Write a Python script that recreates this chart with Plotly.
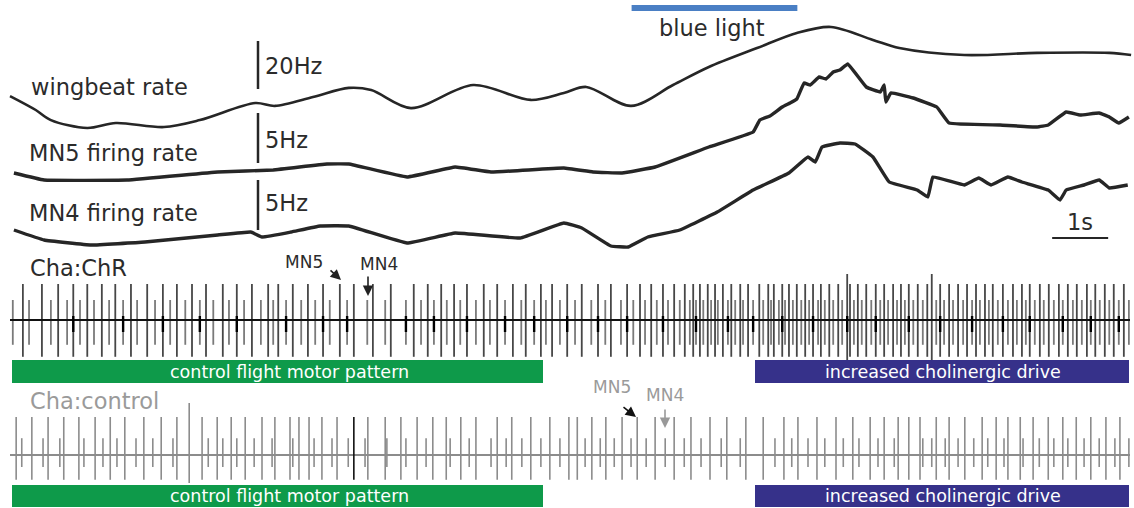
import plotly.graph_objects as go

W, H = 1134, 508
PX0, PX_PER_S = 10, 56.0  # time origin and pixels per second (layout)

# ---------------- DATA ----------------
# time (s) and instantaneous rates (Hz)
wing_t = [0.00, 0.46, 0.73, 1.38, 1.89, 2.75, 3.39, 4.38, 4.73, 5.41, 6.05, 6.45, 7.16, 8.27, 9.30,
          9.89, 10.29, 11.09, 11.84, 12.48, 13.34, 14.05, 14.66, 15.41, 15.88, 17.04, 18.34, 19.63, 20.02]
wing_hz = [203.3, 197.5, 193.3, 190.0, 192.1, 190.4, 193.3, 200.4, 199.2, 202.9, 206.7, 205.8, 198.3, 207.9, 201.7,
           204.6, 207.1, 199.2, 207.9, 215.4, 223.3, 229.6, 232.1, 226.7, 223.3, 220.4, 221.3, 221.3, 220.4]

mn5_t = [0.07, 0.61, 2.09, 3.71, 4.70, 5.66, 6.05, 7.09, 7.95, 8.59, 9.89, 10.41, 10.93, 11.52, 12.48, 13.27,
         13.39, 13.57, 13.79, 13.93, 14.05, 14.18, 14.29, 14.45, 14.57, 14.70, 14.82, 14.96, 15.29, 15.54,
         15.61, 15.64, 15.73, 16.13, 16.55, 16.77, 17.68, 18.34, 18.54, 18.86, 19.11, 19.45, 19.63, 19.80, 19.98]
mn5_hz = [4.7, 4.0, 4.0, 4.8, 5.0, 5.6, 5.6, 4.3, 5.3, 4.8, 5.2, 4.8, 4.7, 5.3, 7.3, 8.8,
          10.0, 10.4, 11.3, 11.7, 12.1, 13.7, 13.5, 14.3, 14.1, 14.8, 15.0, 15.6, 13.3, 12.8,
          13.5, 11.8, 12.7, 12.2, 11.3, 9.7, 9.5, 9.3, 9.5, 10.8, 10.5, 10.7, 10.3, 9.7, 10.3]

mn4_t = [0.07, 0.61, 1.45, 2.41, 3.71, 4.30, 4.50, 5.02, 5.54, 6.05, 7.09, 7.95, 9.11, 9.89, 10.21, 10.73,
         11.04, 11.39, 11.96, 12.63, 13.27, 13.91, 14.25, 14.38, 14.50, 14.82, 15.09, 15.41, 15.70, 16.20,
         16.39, 16.48, 17.04, 17.30, 17.52, 17.82, 18.07, 18.54, 18.75, 18.86, 19.18, 19.45, 19.63, 19.96]
mn4_hz = [5.0, 4.0, 3.5, 3.8, 4.5, 4.8, 4.3, 4.8, 5.4, 5.4, 3.7, 4.7, 4.2, 5.7, 5.2, 3.4,
          3.3, 4.3, 5.0, 6.8, 9.0, 10.7, 12.3, 11.8, 13.3, 13.7, 13.6, 12.3, 9.8, 9.0,
          8.3, 10.3, 9.5, 10.2, 9.5, 10.3, 9.8, 9.0, 8.0, 9.0, 9.5, 10.0, 9.2, 9.5]

# spike times (s) in the Cha:ChR recording
chr_mn5_spikes = [0.23, 0.57, 0.86, 1.13, 1.38, 1.64, 1.88, 2.16, 2.45, 2.73, 2.98, 3.25, 3.50, 3.80, 4.05,
                  4.32, 4.61, 4.79, 5.05, 5.32, 5.59, 5.89, 6.14, 6.48, 6.80, 7.21, 7.46, 7.70, 7.93, 8.16,
                  8.46, 8.70, 8.98, 9.21, 9.48, 9.68, 9.95, 10.21, 10.50, 10.73, 11.02, 11.25, 11.45, 11.66,
                  11.86, 12.05, 12.20, 12.32, 12.46, 12.59, 12.73, 12.88, 13.04, 13.18, 13.38, 13.54, 13.64,
                  13.79, 13.91, 14.05, 14.20, 14.34, 14.48, 14.63, 14.79, 15.00, 15.14, 15.29, 15.46, 15.61,
                  15.77, 15.91, 16.05, 16.21, 16.38, 16.61, 16.77, 16.93, 17.09, 17.25, 17.41, 17.55, 17.73,
                  17.91, 18.07, 18.21, 18.39, 18.55, 18.73, 18.89, 19.05, 19.23, 19.38, 19.55, 19.71, 19.89]
chr_mn4_spikes = [0.05, 0.34, 0.73, 1.02, 1.25, 1.50, 1.77, 2.02, 2.27, 2.59, 2.86, 3.13, 3.39, 3.63, 3.91,
                  4.18, 4.48, 4.70, 4.93, 5.20, 5.45, 5.71, 6.02, 6.38, 6.70, 7.07, 7.34, 7.57, 7.80, 8.04,
                  8.32, 8.57, 8.84, 9.13, 9.36, 9.57, 9.82, 10.09, 10.38, 10.63, 10.91, 11.13, 11.34, 11.55,
                  11.75, 11.96, 12.14, 12.25, 12.38, 12.52, 12.64, 12.82, 12.95, 13.09, 13.27, 13.45, 13.59,
                  13.73, 13.84, 13.98, 14.13, 14.27, 14.43, 14.55, 14.70, 14.86, 15.07, 15.21, 15.38, 15.54,
                  15.68, 15.84, 15.98, 16.13, 16.30, 16.54, 16.68, 16.84, 17.02, 17.18, 17.32, 17.48, 17.64,
                  17.82, 17.98, 18.14, 18.30, 18.46, 18.64, 18.80, 18.98, 19.14, 19.30, 19.46, 19.63, 19.80, 19.98]
chr_large_spikes = [14.95, 16.46]
# dark extracellular bursts riding on the ChR baseline
chr_bursts = [1.13, 2.02, 2.73, 3.39, 4.05, 4.93, 5.59, 6.02, 7.07, 7.57, 8.16, 8.84, 9.36, 9.95,
              10.50, 11.02, 11.66, 12.25, 12.82, 13.27, 13.79, 14.34, 14.95, 15.46, 16.05, 16.61,
              17.18, 17.73, 18.21, 18.80, 19.30, 19.80]

# spike times (s) in the Cha:control recording
ctl_mn5_spikes = [0.11, 0.39, 0.68, 0.96, 1.23, 1.52, 1.79, 2.05, 2.39, 2.70, 2.98, 3.43, 3.70, 3.95, 4.20,
                  4.50, 4.73, 5.00, 5.16, 5.34, 5.57, 5.84, 6.39, 6.70, 6.98, 7.27, 7.55, 7.79, 8.05, 8.32,
                  8.70, 8.96, 9.30, 9.64, 9.98, 10.13, 10.39, 10.64, 10.93, 11.20, 11.52, 11.86, 12.16, 12.50,
                  12.80, 13.14, 13.45, 13.82, 14.07, 14.41, 14.75, 15.05, 15.36, 15.61, 15.86, 16.05, 16.25,
                  16.54, 16.77, 17.05, 17.36, 17.61, 17.82, 18.04, 18.27, 18.54, 18.80, 19.04, 19.30, 19.57, 19.82]
ctl_mn4_spikes = [0.21, 0.59, 0.89, 1.32, 1.66, 1.91, 2.25, 2.55, 2.91, 3.54, 3.80, 4.05, 4.36, 4.68, 5.05,
                  5.43, 5.75, 6.04, 6.34, 6.73, 7.07, 7.43, 7.86, 8.20, 8.59, 8.86, 9.14, 9.48, 9.82, 10.27,
                  10.54, 10.79, 11.09, 11.36, 11.70, 12.04, 12.34, 12.70, 13.04, 13.66, 13.96, 14.25, 14.55,
                  14.88, 15.16, 15.50, 15.79, 16.30, 16.46, 16.70, 16.93, 17.21, 17.46, 17.75, 18.09, 18.38,
                  18.64, 18.89, 19.18, 19.45, 19.73, 19.98]
ctl_large_spikes = [3.20]
ctl_dark_spikes = [6.14]

# spike amplitudes (arbitrary units): (peak up, trough down)
AMP = {
    "chr_mn5": (0.90, 0.92), "chr_mn4": (0.50, 0.62), "chr_large": (1.15, 1.05), "chr_burst": (0.10, 0.30),
    "ctl_mn5": (0.95, 0.62), "ctl_mn4": (0.42, 0.30), "ctl_large": (1.30, 0.70),
}

light_on, light_off = 11.1, 14.06
t_start, t_end = 0.0, 20.0

# ---------------- LAYOUT HELPERS ----------------
def tx(px):
    return (px - PX0) / PX_PER_S

def px_x(px):
    return px / W

def px_y(py):
    return 1 - py / H

def spikes_xy(times, up, down):
    xs, ys = [], []
    for t in times:
        xs += [t, t, None]
        ys += [up, -down, None]
    return xs, ys

fig = go.Figure()
FONT = "DejaVu Sans, Arial, sans-serif"

# rate traces
fig.add_trace(go.Scatter(x=wing_t, y=wing_hz, mode="lines",
                         line=dict(color="#262626", width=2.6, shape="spline", smoothing=0.9),
                         yaxis="y", hoverinfo="skip"))
fig.add_trace(go.Scatter(x=mn5_t, y=mn5_hz, mode="lines",
                         line=dict(color="#262626", width=3.4, shape="spline", smoothing=0.25),
                         yaxis="y2", hoverinfo="skip"))
fig.add_trace(go.Scatter(x=mn4_t, y=mn4_hz, mode="lines",
                         line=dict(color="#262626", width=3.4, shape="spline", smoothing=0.25),
                         yaxis="y3", hoverinfo="skip"))

# Cha:ChR recording
for key, times, col, wd in [("chr_mn4", chr_mn4_spikes, "#7a7a7a", 1.8),
                            ("chr_mn5", chr_mn5_spikes, "#474747", 1.8),
                            ("chr_large", chr_large_spikes, "#474747", 1.8)]:
    xs, ys = spikes_xy(times, *AMP[key])
    fig.add_trace(go.Scatter(x=xs, y=ys, mode="lines", line=dict(color=col, width=wd),
                             yaxis="y4", hoverinfo="skip"))
fig.add_trace(go.Scatter(x=[t_start, t_end], y=[0, 0], mode="lines", line=dict(color="#111111", width=2.2),
                         yaxis="y4", hoverinfo="skip"))
xs, ys = spikes_xy(chr_bursts, *AMP["chr_burst"])
fig.add_trace(go.Scatter(x=xs, y=ys, mode="lines", line=dict(color="#000000", width=2.4),
                         yaxis="y4", hoverinfo="skip"))

# Cha:control recording
fig.add_trace(go.Scatter(x=[t_start, t_end], y=[0, 0], mode="lines", line=dict(color="#8c8c8c", width=2),
                         yaxis="y5", hoverinfo="skip"))
for key, times, col in [("ctl_mn4", ctl_mn4_spikes, "#8c8c8c"),
                        ("ctl_mn5", ctl_mn5_spikes, "#8c8c8c"),
                        ("ctl_large", ctl_large_spikes, "#8c8c8c"),
                        ("ctl_mn5", ctl_dark_spikes, "#111111")]:
    xs, ys = spikes_xy(times, *AMP[key])
    fig.add_trace(go.Scatter(x=xs, y=ys, mode="lines", line=dict(color=col, width=1.6),
                             yaxis="y5", hoverinfo="skip"))

# axes: all overlay the full plot height, scaled so that units map to the figure's spacing
hidden = dict(visible=False, fixedrange=True)
fig.update_layout(
    width=W, height=H, margin=dict(l=0, r=0, t=0, b=0),
    paper_bgcolor="white", plot_bgcolor="white", showlegend=False,
    xaxis=dict(range=[tx(0), tx(W)], **hidden),
    yaxis=dict(range=[31.67, 243.33], **hidden),
    yaxis2=dict(range=[-28.8, 22.0], overlaying="y", **hidden),
    yaxis3=dict(range=[-22.8, 28.0], overlaying="y", **hidden),
    yaxis4=dict(range=[-4.7, 8.0], overlaying="y", **hidden),
    yaxis5=dict(range=[-1.325, 11.375], overlaying="y", **hidden),
)

shapes = []
# scale bars
shapes.append(dict(type="line", xref="x", yref="y", x0=tx(258), x1=tx(258), y0=206.25, y1=226.25,
                   line=dict(color="#262626", width=2.5)))
shapes.append(dict(type="line", xref="x", yref="y2", x0=tx(258), x1=tx(258), y0=5.7, y1=10.7,
                   line=dict(color="#262626", width=2.5)))
shapes.append(dict(type="line", xref="x", yref="y3", x0=tx(258), x1=tx(258), y0=5.0, y1=10.0,
                   line=dict(color="#262626", width=2.5)))
shapes.append(dict(type="line", xref="x", yref="paper", x0=18.61, x1=19.61, y0=px_y(238), y1=px_y(238),
                   line=dict(color="#262626", width=2.2)))
# blue light bar
shapes.append(dict(type="rect", xref="x", yref="paper", x0=light_on, x1=light_off, y0=px_y(11), y1=px_y(5),
                   fillcolor="#4a7fc4", line=dict(width=0)))
# state bars
for y0, y1 in [(360, 383), (485, 507)]:
    shapes.append(dict(type="rect", xref="paper", yref="paper", x0=px_x(12), x1=px_x(543),
                       y0=px_y(y1), y1=px_y(y0), fillcolor="#0e9a4a", line=dict(width=0)))
    shapes.append(dict(type="rect", xref="paper", yref="paper", x0=px_x(755), x1=px_x(1129),
                       y0=px_y(y1), y1=px_y(y0), fillcolor="#36318a", line=dict(width=0)))
fig.update_layout(shapes=shapes)

ann = []
def text(s, x, y, size=22.5, color="#2b2b2b", anchor="left"):
    ann.append(dict(text=s, x=px_x(x), y=px_y(y), xref="paper", yref="paper", showarrow=False,
                    xanchor=anchor, yanchor="middle", font=dict(family=FONT, size=size, color=color)))

text("wingbeat rate", 29, 87)
text("MN5 firing rate", 27, 153)
text("MN4 firing rate", 27, 213)
text("20Hz", 263, 66)
text("5Hz", 263, 140)
text("5Hz", 263, 203)
text("blue light", 712, 28, anchor="center")
text("1s", 1080, 222, anchor="center")
text("Cha:ChR", 28, 268)
text("MN5", 283, 262, size=17)
text("MN4", 358, 264, size=17)
text("Cha:control", 28, 401, color="#9a9a9a")
text("MN5", 591, 387, size=17, color="#9a9a9a")
text("MN4", 644, 395, size=17, color="#9a9a9a")
for yc in (372, 496):
    text("control flight motor pattern", 289, yc, size=17.5, color="white", anchor="center")
    text("increased cholinergic drive", 943, yc, size=17.5, color="white", anchor="center")

def arrow(hx, hy, tx_, ty, color):
    ann.append(dict(x=px_x(hx), y=px_y(hy), xref="paper", yref="paper", ax=tx_ - hx, ay=ty - hy,
                    showarrow=True, arrowhead=2, arrowsize=1.3, arrowwidth=1.6, arrowcolor=color, text=""))

arrow(341, 280, 329, 269, "#222222")
arrow(368, 296, 368, 275, "#222222")
arrow(636, 417, 622, 406, "#111111")
arrow(665, 428, 665, 408, "#999999")
fig.update_layout(annotations=ann)

fig.write_html("out.html", config={"displayModeBar": False, "staticPlot": True},
               post_script="document.body.style.margin='0';document.body.style.overflow='hidden';")
